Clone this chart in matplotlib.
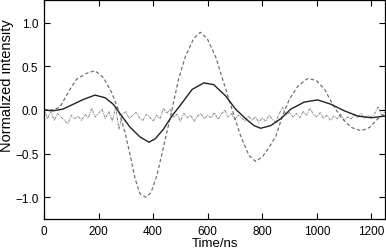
import matplotlib
matplotlib.use("Agg")
import matplotlib.pyplot as plt
import numpy as np

plt.rcParams['font.family'] = ['Liberation Sans', 'DejaVu Sans']

# dashed series (time ns, value)
dash_t = [0, 30, 58, 95, 119, 156, 187, 218, 248, 273, 297, 316, 334, 352, 372, 392,
          414, 445, 469, 493, 518, 549, 573, 598, 629, 659, 690, 721, 751, 775, 800,
          825, 850, 874, 899, 930, 966, 997, 1028, 1058, 1089, 1126, 1163, 1194, 1224, 1250]
dash_v = [0.0, 0.0, 0.03, 0.235, 0.35, 0.42, 0.45, 0.37, 0.2, 0.0, -0.26, -0.52, -0.79, -0.96, -1.0, -0.95,
          -0.75, -0.33, 0.0, 0.35, 0.61, 0.82, 0.89, 0.82, 0.61, 0.31, 0.0, -0.3, -0.52, -0.59, -0.54,
          -0.43, -0.3, -0.07, 0.12, 0.27, 0.36, 0.34, 0.24, 0.065, -0.086, -0.2, -0.24, -0.2, -0.1, -0.05]

# solid series
solid_t = [0, 33, 70, 107, 144, 187, 224, 254, 285, 316, 352, 385, 408, 438, 469, 506, 543,
           586, 622, 666, 702, 739, 770, 794, 831, 868, 905, 954, 1003, 1052, 1101, 1150, 1200, 1250]
solid_v = [0.0, -0.01, 0.01, 0.065, 0.12, 0.17, 0.14, 0.065, -0.07, -0.2, -0.31, -0.37, -0.33, -0.22,
           -0.07, 0.08, 0.235, 0.31, 0.29, 0.16, 0.01, -0.1, -0.18, -0.21, -0.18, -0.1, 0.01, 0.09,
           0.115, 0.065, -0.01, -0.07, -0.09, -0.07]

# noisy series, sampled every 12.5 ns
noise_t = [i * 12.5 for i in range(101)]
noise_v = [0.02, -0.10, -0.02, -0.12, -0.04, -0.08, -0.12, -0.16, -0.06, -0.10,
           -0.07, -0.12, -0.05, -0.09, 0.02, -0.08, -0.04, 0.01, -0.10, -0.02,
           -0.13, 0.03, -0.22, -0.05, -0.02, -0.10, -0.06, -0.03, -0.09, -0.12,
           -0.05, -0.08, -0.13, -0.06, -0.10, 0.02, -0.04, 0.01, -0.09, -0.05,
           -0.13, -0.04, -0.09, -0.06, -0.13, -0.07, -0.04, -0.10, -0.06, -0.09,
           -0.03, -0.11, -0.05, 0.00, -0.08, -0.04, -0.11, -0.06, -0.09, -0.13,
           -0.07, -0.12, -0.08, -0.14, -0.09, -0.13, -0.06, -0.11, -0.14, -0.04,
           0.03, -0.06, -0.03, -0.08, -0.04, -0.09, -0.02, -0.06, 0.02, -0.05,
           -0.08, -0.03, -0.10, -0.06, -0.12, -0.07, -0.10, -0.05, -0.12, -0.08,
           -0.11, -0.05, -0.09, -0.04, -0.10, -0.06, -0.08, -0.04, 0.04, -0.06,
           -0.02]

xticks = [0, 200, 400, 600, 800, 1000, 1200]
yticks = [-1.0, -0.5, 0.0, 0.5, 1.0]
ytick_labels = ['\u22121.0', '\u22120.5', '0.0', '0.5', '1.0']

fig = plt.figure(figsize=(3.86, 2.53), dpi=100)
ax = fig.add_axes([44/386, 33/253, 341/386, 219/253])

ax.plot(noise_t, noise_v, color='#888888', lw=0.7, ls=(0, (3, 1, 1, 1)))
ax.plot(dash_t, dash_v, color='#6a6a6a', lw=0.85, ls=(0, (3, 2)))
ax.plot(solid_t, solid_v, color='#222222', lw=1.0)

ax.set_xlim(0, 1250)
ax.set_ylim(-1.25, 1.26)
ax.set_xticks(xticks)
ax.set_yticks(yticks)
ax.set_yticklabels(ytick_labels)
ax.tick_params(direction='in', top=True, right=True, length=4, width=0.8, labelsize=8.5, pad=4)
for s in ax.spines.values():
    s.set_linewidth(0.9)
ax.set_xlabel('Time/ns', fontsize=9.5, labelpad=0)
ax.set_ylabel('Normalized intensity', fontsize=10.5)
ax.yaxis.set_label_coords(-0.088, 0.615)

fig.savefig('out.png', dpi=100)
